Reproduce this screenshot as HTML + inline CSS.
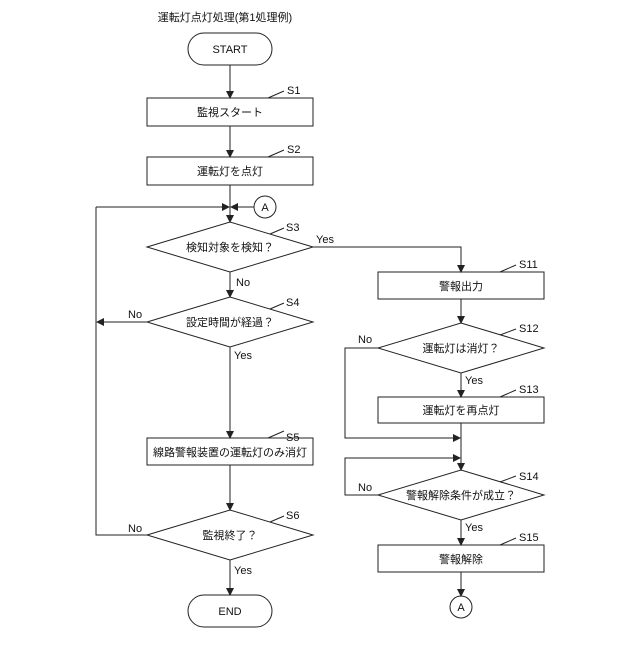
<!DOCTYPE html><html><head><meta charset="utf-8"><style>body{margin:0;background:#fff}</style></head><body>
<svg width="640" height="640" viewBox="0 0 640 640" xmlns="http://www.w3.org/2000/svg" font-family="'Liberation Sans','Noto Sans CJK JP',sans-serif" font-size="11">
<defs><marker id="a" markerWidth="8" markerHeight="8" refX="7" refY="4" orient="auto" markerUnits="userSpaceOnUse"><path d="M0,0 L8,4 L0,8z" fill="#222"/></marker></defs>
<g stroke="#222" stroke-width="1" fill="none">
<rect x="188" y="33" width="84" height="32" rx="16" fill="#fff"/>
<rect x="147" y="98" width="166" height="28"/>
<rect x="147" y="157" width="166" height="28"/>
<circle cx="265" cy="207" r="11"/>
<polygon points="147,247 230,222 313,247 230,272"/>
<polygon points="147,322 230,297 313,322 230,347"/>
<rect x="147" y="438" width="166" height="27"/>
<polygon points="147,535 230,510 313,535 230,560"/>
<rect x="188" y="595" width="84" height="32" rx="16"/>
<rect x="378" y="272" width="166" height="27"/>
<polygon points="378,348 461,323 544,348 461,373"/>
<rect x="378" y="397" width="166" height="26"/>
<polygon points="378,495 461,470 544,495 461,520"/>
<rect x="378" y="545" width="166" height="27"/>
<circle cx="461" cy="607" r="11"/>
<path d="M230,65V98" marker-end="url(#a)"/>
<path d="M230,126V157" marker-end="url(#a)"/>
<path d="M230,185V222" marker-end="url(#a)"/>
<path d="M254,207H231" marker-end="url(#a)"/>
<path d="M96,207H229" marker-end="url(#a)"/>
<path d="M96,207V535H147"/>
<path d="M230,272V297" marker-end="url(#a)"/>
<path d="M147,322H97" marker-end="url(#a)"/>
<path d="M230,347V438" marker-end="url(#a)"/>
<path d="M230,465V510" marker-end="url(#a)"/>
<path d="M230,560V595" marker-end="url(#a)"/>
<path d="M313,247H461V272" marker-end="url(#a)"/>
<path d="M461,299V323" marker-end="url(#a)"/>
<path d="M461,373V397" marker-end="url(#a)"/>
<path d="M461,423V470" marker-end="url(#a)"/>
<path d="M378,348H345V438H460" marker-end="url(#a)"/>
<path d="M378,495H345V458H460" marker-end="url(#a)"/>
<path d="M461,520V545" marker-end="url(#a)"/>
<path d="M461,572V596" marker-end="url(#a)"/>
<path d="M268,98L284,91M268,157L284,150M270,234L284,228M270,309L284,303M268,438L284,431M270,522L284,516M500,272L516,265M500,335L516,329M500,397L516,390M500,482L516,476M500,545L516,538"/>
</g>
<g fill="#111" text-anchor="middle">
<text x="225" y="21">運転灯点灯処理(第1処理例)</text>
<text x="230" y="53">START</text>
<text x="230" y="116">監視スタート</text>
<text x="230" y="175">運転灯を点灯</text>
<text x="265" y="211">A</text>
<text x="230" y="251">検知対象を検知？</text>
<text x="230" y="326">設定時間が経過？</text>
<text x="230" y="456">線路警報装置の運転灯のみ消灯</text>
<text x="230" y="539">監視終了？</text>
<text x="230" y="615">END</text>
<text x="461" y="290">警報出力</text>
<text x="461" y="352">運転灯は消灯？</text>
<text x="461" y="414">運転灯を再点灯</text>
<text x="461" y="499">警報解除条件が成立？</text>
<text x="461" y="563">警報解除</text>
<text x="461" y="611">A</text>
</g>
<g fill="#111">
<text x="287" y="94">S1</text><text x="287" y="153">S2</text><text x="286" y="231">S3</text><text x="286" y="306">S4</text><text x="286" y="441">S5</text><text x="286" y="519">S6</text>
<text x="519" y="268">S11</text><text x="519" y="332">S12</text><text x="519" y="393">S13</text><text x="519" y="480">S14</text><text x="519" y="541">S15</text>
<text x="316" y="243">Yes</text><text x="236" y="286">No</text><text x="128" y="318">No</text><text x="234" y="359">Yes</text>
<text x="128" y="532">No</text><text x="234" y="574">Yes</text>
<text x="358" y="343">No</text><text x="465" y="384">Yes</text><text x="358" y="491">No</text><text x="465" y="531">Yes</text>
</g>
</svg></body></html>
